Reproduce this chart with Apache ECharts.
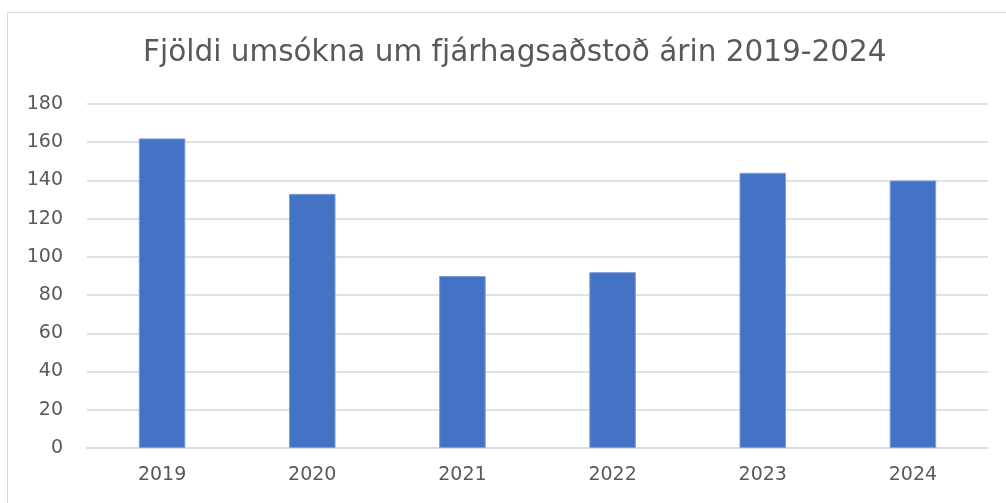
<!DOCTYPE html>
<html>
<head>
<meta charset="utf-8">
<script src="https://cdn.jsdelivr.net/npm/echarts@6/dist/echarts.min.js"></script>
<style>
  html, body { margin: 0; padding: 0; background: #fff; }
  #main { width: 1006px; height: 503px; }
</style>
</head>
<body>
<div id="main"></div>
<script>
// gögn lesin af myndinni
var years = ["2019", "2020", "2021", "2022", "2023", "2024"];
var umsoknir = [162, 133, 90, 92, 144, 140];
var yTicks = [0, 20, 40, 60, 80, 100, 120, 140, 160, 180];

var myChart = echarts.init(document.getElementById("main"));
myChart.setOption({
  animation: false,
  textStyle: { fontFamily: "DejaVu Sans" },
  title: {
    text: "Fjöldi umsókna um fjárhagsaðstoð árin 2019-2024",
    left: 138,
    top: 33,
    textStyle: { color: "#595959", fontSize: 29.5, fontWeight: "normal" }
  },
  // rammi utan um myndritið
  graphic: [{
    type: "rect",
    shape: { x: 7.5, y: 12.5, width: 1010, height: 500 },
    style: { fill: "none", stroke: "#d9d9d9", lineWidth: 1 },
    silent: true
  }],
  grid: { left: 87, right: 18, top: 104, bottom: 55 },
  xAxis: {
    type: "category",
    data: years,
    axisTick: { show: false },
    axisLine: { lineStyle: { color: "#d9d9d9", width: 1.5 } },
    axisLabel: { color: "#595959", fontSize: 19, margin: 18 }
  },
  yAxis: {
    type: "value",
    min: yTicks[0],
    max: yTicks[yTicks.length - 1],
    interval: 20,
    axisLine: { show: false },
    axisTick: { show: false },
    splitLine: { lineStyle: { color: "#d9d9d9", width: 1.5 } },
    axisLabel: { color: "#595959", fontSize: 19, margin: 24 }
  },
  series: [{
    type: "bar",
    data: umsoknir,
    barWidth: "31%",
    itemStyle: { color: "#4472C4", borderColor: "#7f9fd8", borderWidth: 1 }
  }]
});
</script>
</body>
</html>
